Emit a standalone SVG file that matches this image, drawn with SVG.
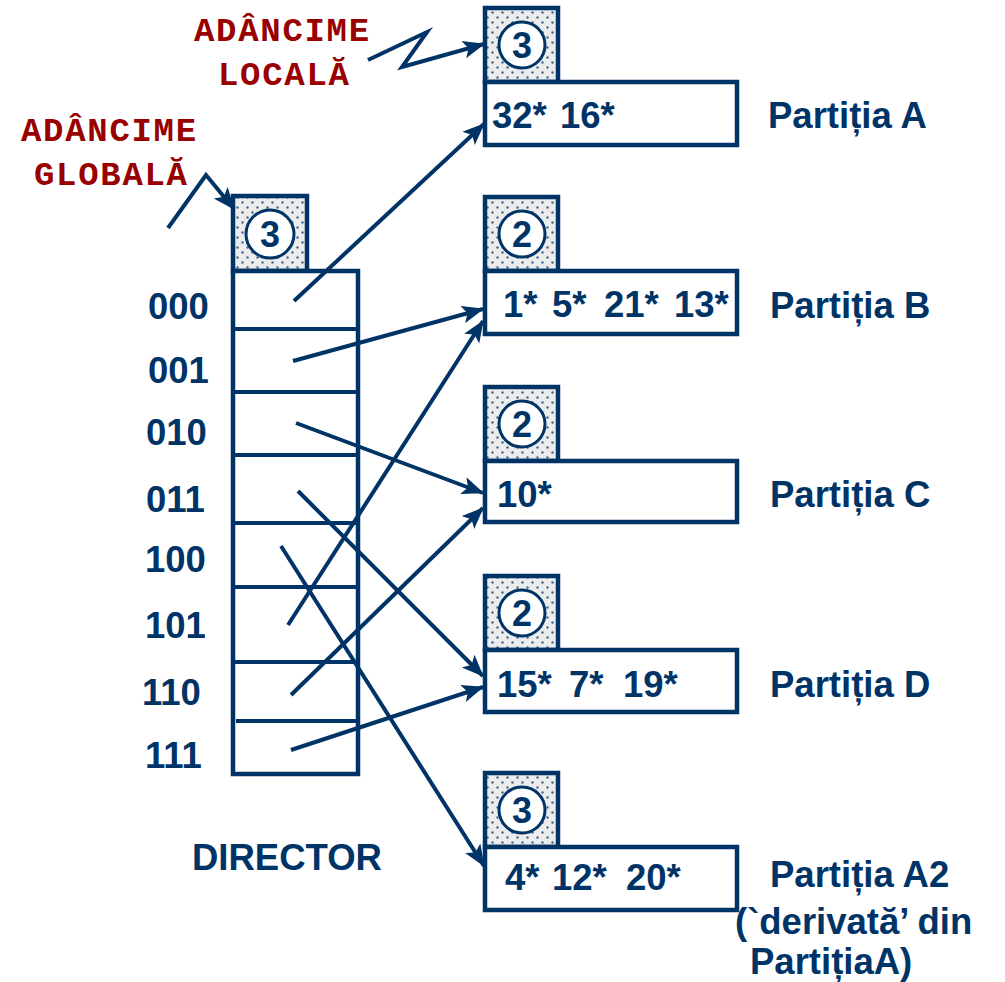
<svg xmlns="http://www.w3.org/2000/svg" width="1005" height="982" viewBox="0 0 1005 982">
<style>
.t{font-family:"Liberation Sans",Arial,sans-serif;font-weight:bold;fill:#003366;font-size:36.5px}
.c{font-family:"Liberation Sans",Arial,sans-serif;font-weight:bold;fill:#003366;font-size:36px;text-anchor:middle}
.r{font-family:"Liberation Mono","Courier New",monospace;font-weight:bold;fill:#990000;font-size:34px;letter-spacing:1.7px}
.hdr{fill:url(#dots);stroke:#003366;stroke-width:4.5}
.box{fill:#fff;stroke:#003366;stroke-width:4.5}
.circ{fill:#fff;stroke:#003366;stroke-width:3}
.ln{fill:none;stroke:#003366;stroke-width:4}
.ar{fill:none;stroke:#003366;stroke-width:4;marker-end:url(#ah)}
</style>
<defs>
<pattern id="dots" width="10" height="10" patternUnits="userSpaceOnUse">
<rect width="10" height="10" fill="#ececec"/>
<circle cx="2.5" cy="2.5" r="1.2" fill="#44688f"/>
<circle cx="7.5" cy="7.5" r="1.2" fill="#44688f"/>
</pattern>
<marker id="ah" markerUnits="userSpaceOnUse" markerWidth="24" markerHeight="20" refX="21" refY="9" orient="auto">
<path d="M0,0 L22,9 L0,18 L5,9 z" fill="#003366"/>
</marker>
</defs>

<g id="label-local">
<text class="r" x="194" y="41">ADÂNCIME</text>
<text class="r" x="218" y="85">LOCALĂ</text>
</g>
<g id="label-global">
<text class="r" x="21" y="141">ADÂNCIME</text>
<text class="r" x="34" y="185">GLOBALĂ</text>
</g>

<g id="director">
<rect class="hdr" x="233" y="196" width="74" height="75"/>
<circle class="circ" cx="270" cy="234" r="24"/>
<text class="c" x="270" y="247">3</text>
<rect class="box" x="233" y="271" width="125" height="503"/>
<line class="ln" x1="233" y1="329" x2="358" y2="329"/>
<line class="ln" x1="233" y1="392" x2="358" y2="392"/>
<line class="ln" x1="233" y1="455" x2="358" y2="455"/>
<line class="ln" x1="233" y1="523" x2="358" y2="523"/>
<line class="ln" x1="233" y1="587" x2="358" y2="587"/>
<line class="ln" x1="233" y1="662" x2="358" y2="662"/>
<line class="ln" x1="236" y1="721" x2="358" y2="721"/>
<text class="t" x="148" y="319">000</text>
<text class="t" x="148" y="383">001</text>
<text class="t" x="146" y="445">010</text>
<text class="t" x="146" y="512">011</text>
<text class="t" x="145" y="572">100</text>
<text class="t" x="145" y="638">101</text>
<text class="t" x="142" y="705">110</text>
<text class="t" x="145" y="768">111</text>
<text class="t" x="192" y="870">DIRECTOR</text>
</g>

<g id="bucket-A">
<rect class="hdr" x="485" y="8" width="73" height="74"/>
<circle class="circ" cx="522" cy="45" r="23"/>
<text class="c" x="522" y="58">3</text>
<rect class="box" x="485" y="82" width="252" height="63"/>
<text class="t" y="128"><tspan x="492">32*</tspan><tspan x="560">16*</tspan></text>
<text class="t" x="768" y="128">Partiția A</text>
</g>

<g id="bucket-B">
<rect class="hdr" x="485" y="197" width="73" height="74"/>
<circle class="circ" cx="522" cy="234" r="23"/>
<text class="c" x="522" y="247">2</text>
<rect class="box" x="485" y="271" width="252" height="63"/>
<text class="t" y="317"><tspan x="503">1*</tspan><tspan x="552">5*</tspan><tspan x="604">21*</tspan><tspan x="674">13*</tspan></text>
<text class="t" x="770" y="318">Partiția B</text>
</g>

<g id="bucket-C">
<rect class="hdr" x="485" y="387" width="73" height="74"/>
<circle class="circ" cx="522" cy="424" r="23"/>
<text class="c" x="522" y="437">2</text>
<rect class="box" x="485" y="461" width="252" height="61"/>
<text class="t" x="497" y="507">10*</text>
<text class="t" x="770" y="507">Partiția C</text>
</g>

<g id="bucket-D">
<rect class="hdr" x="485" y="576" width="73" height="74"/>
<circle class="circ" cx="522" cy="613" r="23"/>
<text class="c" x="522" y="626">2</text>
<rect class="box" x="485" y="650" width="252" height="62"/>
<text class="t" y="697"><tspan x="497">15*</tspan><tspan x="569">7*</tspan><tspan x="623">19*</tspan></text>
<text class="t" x="770" y="697">Partiția D</text>
</g>

<g id="bucket-A2">
<rect class="hdr" x="485" y="773" width="73" height="74"/>
<circle class="circ" cx="522" cy="810" r="23"/>
<text class="c" x="522" y="823">3</text>
<rect class="box" x="485" y="847" width="252" height="63"/>
<text class="t" y="890"><tspan x="505">4*</tspan><tspan x="552">12*</tspan><tspan x="626">20*</tspan></text>
<text class="t" x="770" y="887">Partiția A2</text>
<text class="t" x="735" y="934">(`derivată’ din</text>
<text class="t" x="750" y="974">PartițiaA)</text>
</g>

<g id="connectors">
<polyline class="ar" points="368,60 427,32 402,67 484,44"/>
<polyline class="ar" points="168,228 206,175 234,209"/>
<line class="ar" x1="294" y1="301" x2="484" y2="124"/>
<line class="ar" x1="293" y1="361" x2="483" y2="309"/>
<line class="ar" x1="296" y1="423" x2="483" y2="493"/>
<line class="ar" x1="298" y1="491" x2="483" y2="676"/>
<line class="ar" x1="281" y1="546" x2="484" y2="866"/>
<line class="ar" x1="288" y1="625" x2="483" y2="321"/>
<line class="ar" x1="291" y1="695" x2="483" y2="508"/>
<line class="ar" x1="291" y1="750" x2="483" y2="687"/>
</g>
</svg>
